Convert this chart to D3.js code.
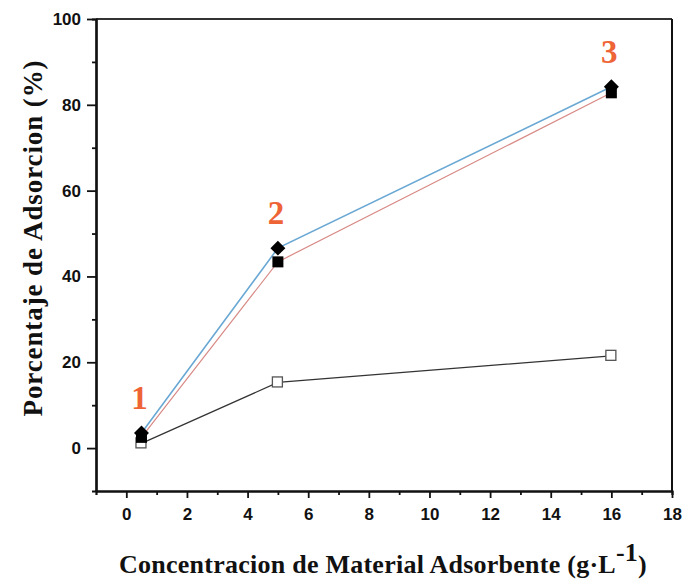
<!DOCTYPE html>
<html>
<head>
<meta charset="utf-8">
<script src="https://cdn.jsdelivr.net/npm/d3@7"></script>
<style>
  body { margin: 0; background: #fff; }
  .tick text { font-family: "Liberation Sans", Arial, sans-serif; font-weight: bold; font-size: 17px; fill: #111; }
</style>
</head>
<body>
<script>
// x values (g/L) shared by all series
const conc = [0.5, 5, 16];
// % adsorption
const diamondVals = [3.5, 46.6, 84.2];   // filled diamonds, blue line
const squareVals = [2.5, 43.4, 82.8];    // filled squares, red line
const openVals = [1.1, 15.3, 21.5];      // open squares, black line
const pointLabels = ["1", "2", "3"];
const xTicks = [0, 2, 4, 6, 8, 10, 12, 14, 16, 18];
const yTicks = [0, 20, 40, 60, 80, 100];

const w = 683, h = 582;
const pLeft = 96, pRight = 672, pTop = 19, pBottom = 491;

const svg = d3.select("body").append("svg").attr("width", w).attr("height", h);

const xScale = d3.scaleLinear().domain([-1, 18]).range([pLeft, pRight]);
const yScale = d3.scaleLinear().domain([-10, 100]).range([pBottom, pTop]);

// frame top / right
svg.append("line").attr("x1", pLeft).attr("x2", pRight).attr("y1", pTop).attr("y2", pTop)
  .attr("stroke", "#333").attr("stroke-width", 2);
svg.append("line").attr("x1", pRight).attr("x2", pRight).attr("y1", pTop).attr("y2", pBottom)
  .attr("stroke", "#111").attr("stroke-width", 2);

// minor ticks first, then the major axes on top
const xMinor = d3.axisBottom(xScale).tickValues(d3.range(1, 18, 2)).tickSize(4).tickFormat("");
const yMinor = d3.axisLeft(yScale).tickValues([10, 30, 50, 70, 90]).tickSize(4).tickFormat("");
svg.append("g").attr("transform", "translate(0," + pBottom + ")").call(xMinor);
svg.append("g").attr("transform", "translate(" + pLeft + ",0)").call(yMinor);

const xAxis = d3.axisBottom(xScale).tickValues(xTicks).tickSize(7).tickPadding(10).tickSizeOuter(0);
const yAxis = d3.axisLeft(yScale).tickValues(yTicks).tickSize(9).tickPadding(6).tickSizeOuter(0);
svg.append("g").attr("id", "x-axis").attr("transform", "translate(0," + pBottom + ")").call(xAxis);
svg.append("g").attr("id", "y-axis").attr("transform", "translate(" + pLeft + ",0)").call(yAxis);
svg.selectAll(".domain").attr("stroke", "#111").attr("stroke-width", 2.2);
svg.selectAll(".tick line").attr("stroke", "#111").attr("stroke-width", 1.8);

// lines
const line = d3.line().x(d => xScale(d[0])).y(d => yScale(d[1]));
svg.append("path").datum(d3.zip(conc, openVals)).attr("d", line)
  .attr("fill", "none").attr("stroke", "#333").attr("stroke-width", 1.2);
svg.append("path").datum(d3.zip(conc, squareVals)).attr("d", line)
  .attr("fill", "none").attr("stroke", "#d88a86").attr("stroke-width", 1.2);
svg.append("path").datum(d3.zip(conc, diamondVals)).attr("d", line)
  .attr("fill", "none").attr("stroke", "#6aa8d4").attr("stroke-width", 1.6);

// markers
const sq = 11;
svg.selectAll(".open").data(d3.zip(conc, openVals)).enter().append("rect")
  .attr("x", d => xScale(d[0]) - sq / 2).attr("y", d => yScale(d[1]) - sq / 2)
  .attr("width", sq - 1).attr("height", sq - 1).attr("fill", "#fff").attr("stroke", "#555").attr("stroke-width", 1.3);
svg.selectAll(".filled").data(d3.zip(conc, squareVals)).enter().append("rect")
  .attr("x", d => xScale(d[0]) - sq / 2).attr("y", d => yScale(d[1]) - sq / 2)
  .attr("width", sq).attr("height", sq).attr("fill", "#000");
const diamond = d3.symbol().type(d3.symbolSquare).size(112);
svg.selectAll(".diamond").data(d3.zip(conc, diamondVals)).enter().append("path")
  .attr("d", diamond)
  .attr("transform", d => "translate(" + xScale(d[0]) + "," + yScale(d[1]) + ") rotate(45)")
  .attr("fill", "#000");

// orange point numbers
svg.selectAll(".num").data(d3.zip(conc, diamondVals, pointLabels)).enter().append("text")
  .attr("x", d => xScale(d[0]) - 2).attr("y", d => yScale(d[1]) - 24)
  .attr("text-anchor", "middle")
  .style("font-family", "'Liberation Serif', 'Times New Roman', serif")
  .style("font-weight", "bold").style("font-size", "33px").attr("fill", "#ee6436")
  .text(d => d[2]);

// axis titles
const xt = svg.append("text").attr("x", 383).attr("y", 573).attr("text-anchor", "middle")
  .style("font-family", "'Liberation Serif', 'Times New Roman', serif")
  .style("font-weight", "bold").style("font-size", "26px").style("letter-spacing", "0.25px").attr("fill", "#111");
xt.append("tspan").text("Concentracion de Material Adsorbente (g\u00b7L");
xt.append("tspan").attr("dy", -12).text("-1");
xt.append("tspan").attr("dy", 12).text(")");

svg.append("text").attr("transform", "translate(42,238) rotate(-90)").attr("text-anchor", "middle")
  .style("font-family", "'Liberation Serif', 'Times New Roman', serif")
  .style("font-weight", "bold").style("font-size", "27px").style("letter-spacing", "0.9px").attr("fill", "#111")
  .text("Porcentaje de Adsorcion (%)");
</script>
</body>
</html>
